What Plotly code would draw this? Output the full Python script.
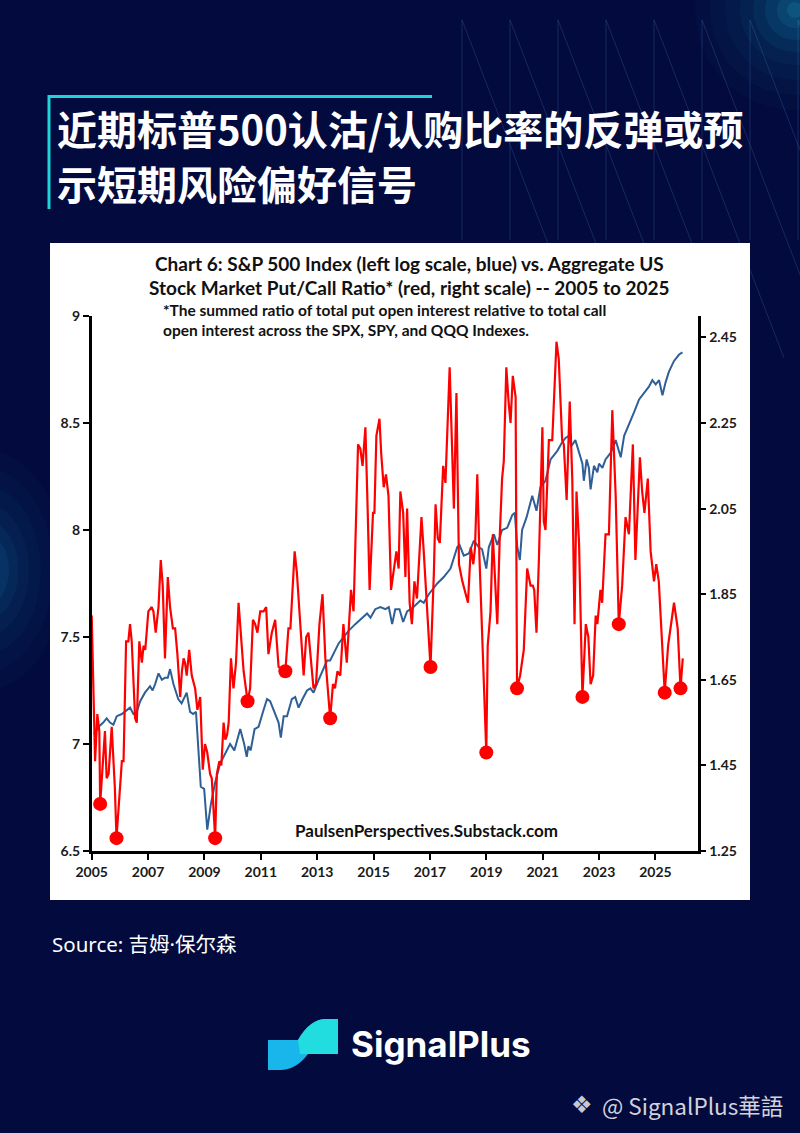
import plotly.graph_objects as go

W, H = 800, 1133

# ---------------- data ----------------
blue_years = [2005.06, 2005.12, 2005.24, 2005.41, 2005.53, 2005.65, 2005.77, 2005.89, 2006.07, 2006.24,
              2006.36, 2006.48, 2006.60, 2006.72, 2006.89, 2007.07, 2007.16, 2007.25, 2007.37, 2007.49,
              2007.60, 2007.70, 2007.78, 2007.90, 2008.07, 2008.19, 2008.37, 2008.49, 2008.60, 2008.70,
              2008.78, 2008.87, 2008.99, 2009.10, 2009.23, 2009.38, 2009.56, 2009.74, 2009.91, 2010.06,
              2010.27, 2010.41, 2010.50, 2010.56, 2010.64, 2010.78, 2010.92, 2011.10, 2011.22, 2011.33,
              2011.51, 2011.63, 2011.71, 2011.81, 2011.93, 2012.10, 2012.22, 2012.34, 2012.48, 2012.64,
              2012.76, 2012.87, 2013.05, 2013.23, 2013.35, 2013.46, 2013.58, 2013.76, 2013.94, 2014.12,
              2014.35, 2014.59, 2014.77, 2014.89, 2015.06, 2015.24, 2015.42, 2015.54, 2015.66, 2015.77,
              2015.92, 2016.05, 2016.19, 2016.42, 2016.66, 2016.78, 2016.96, 2017.26, 2017.49, 2017.73,
              2017.97, 2018.05, 2018.20, 2018.38, 2018.56, 2018.73, 2018.85, 2019.00, 2019.09, 2019.27,
              2019.39, 2019.56, 2019.74, 2019.92, 2020.01, 2020.10, 2020.19, 2020.27, 2020.43, 2020.63,
              2020.78, 2020.92, 2021.10, 2021.28, 2021.52, 2021.69, 2021.81, 2021.93, 2022.01, 2022.16,
              2022.29, 2022.41, 2022.46, 2022.56, 2022.64, 2022.70, 2022.82, 2022.94, 2023.00, 2023.12,
              2023.23, 2023.41, 2023.59, 2023.77, 2023.89, 2024.06, 2024.24, 2024.42, 2024.60, 2024.77,
              2024.89, 2025.01, 2025.13, 2025.25, 2025.36, 2025.48, 2025.66, 2025.84, 2025.96]
blue_values = [7.05, 7.05, 7.08, 7.10, 7.12, 7.10, 7.09, 7.13, 7.14, 7.16,
               7.17, 7.14, 7.15, 7.20, 7.24, 7.27, 7.25, 7.28, 7.33, 7.30,
               7.31, 7.31, 7.35, 7.28, 7.21, 7.19, 7.24, 7.15, 7.14, 7.15,
               6.99, 6.80, 6.79, 6.60, 6.72, 6.82, 6.91, 6.96, 7.00, 6.97,
               7.07, 7.00, 6.94, 6.99, 6.97, 7.07, 7.08, 7.16, 7.21, 7.20,
               7.14, 7.10, 7.03, 7.13, 7.13, 7.21, 7.22, 7.17, 7.21, 7.25,
               7.26, 7.24, 7.30, 7.35, 7.39, 7.39, 7.42, 7.47, 7.50, 7.53,
               7.56, 7.59, 7.61, 7.59, 7.63, 7.64, 7.63, 7.64, 7.56, 7.63,
               7.63, 7.57, 7.62, 7.64, 7.67, 7.66, 7.70, 7.75, 7.78, 7.82,
               7.92, 7.93, 7.88, 7.89, 7.95, 7.92, 7.91, 7.82, 7.92, 7.98,
               7.93, 8.00, 8.01, 8.07, 8.08, 7.92, 7.86, 8.00, 8.06, 8.16,
               8.09, 8.20, 8.23, 8.33, 8.37, 8.41, 8.43, 8.44, 8.39, 8.42,
               8.36, 8.31, 8.23, 8.33, 8.29, 8.19, 8.30, 8.27, 8.31, 8.29,
               8.33, 8.36, 8.42, 8.34, 8.44, 8.49, 8.55, 8.61, 8.64, 8.67,
               8.70, 8.68, 8.70, 8.63, 8.69, 8.74, 8.79, 8.82, 8.83]

red_years = [2005.00, 2005.12, 2005.20, 2005.27, 2005.30, 2005.47, 2005.53, 2005.60, 2005.71, 2005.82,
             2005.88, 2006.07, 2006.13, 2006.22, 2006.30, 2006.36, 2006.42, 2006.54, 2006.60, 2006.69,
             2006.78, 2006.84, 2006.90, 2007.01, 2007.13, 2007.19, 2007.27, 2007.37, 2007.45, 2007.52,
             2007.60, 2007.70, 2007.78, 2007.88, 2007.96, 2008.04, 2008.14, 2008.20, 2008.26, 2008.31,
             2008.37, 2008.46, 2008.55, 2008.67, 2008.75, 2008.85, 2008.94, 2009.02, 2009.10, 2009.20,
             2009.26, 2009.38, 2009.44, 2009.53, 2009.60, 2009.68, 2009.74, 2009.80, 2009.86, 2009.94,
             2010.03, 2010.12, 2010.21, 2010.30, 2010.39, 2010.53, 2010.62, 2010.72, 2010.80, 2010.88,
             2010.98, 2011.10, 2011.19, 2011.27, 2011.39, 2011.51, 2011.63, 2011.87, 2011.98, 2012.05,
             2012.20, 2012.28, 2012.40, 2012.52, 2012.61, 2012.69, 2012.87, 2012.96, 2013.08, 2013.19,
             2013.29, 2013.46, 2013.56, 2013.63, 2013.72, 2013.82, 2013.93, 2014.05, 2014.20, 2014.29,
             2014.45, 2014.53, 2014.61, 2014.71, 2014.79, 2014.86, 2014.98, 2015.03, 2015.10, 2015.21,
             2015.27, 2015.36, 2015.44, 2015.53, 2015.62, 2015.72, 2015.81, 2015.89, 2015.95, 2016.05,
             2016.13, 2016.19, 2016.28, 2016.36, 2016.45, 2016.54, 2016.70, 2016.78, 2017.02, 2017.14,
             2017.20, 2017.28, 2017.35, 2017.47, 2017.55, 2017.70, 2017.79, 2017.85, 2017.94, 2018.03,
             2018.15, 2018.27, 2018.35, 2018.45, 2018.54, 2018.60, 2018.68, 2018.76, 2018.85, 2019.00,
             2019.05, 2019.15, 2019.23, 2019.33, 2019.39, 2019.48, 2019.56, 2019.62, 2019.71, 2019.79,
             2019.86, 2019.94, 2020.04, 2020.09, 2020.20, 2020.33, 2020.45, 2020.57, 2020.65, 2020.70,
             2020.78, 2020.87, 2020.99, 2021.04, 2021.10, 2021.22, 2021.34, 2021.49, 2021.57, 2021.69,
             2021.75, 2021.85, 2021.96, 2022.05, 2022.13, 2022.20, 2022.29, 2022.41, 2022.53, 2022.62,
             2022.70, 2022.79, 2022.88, 2022.94, 2023.05, 2023.11, 2023.23, 2023.35, 2023.47, 2023.59,
             2023.70, 2023.82, 2023.94, 2024.06, 2024.20, 2024.29, 2024.45, 2024.53, 2024.61, 2024.73,
             2024.83, 2024.95, 2025.03, 2025.12, 2025.33, 2025.45, 2025.66, 2025.79, 2025.89, 2025.97]
red_values = [1.80, 1.46, 1.57, 1.53, 1.36, 1.53, 1.42, 1.43, 1.54, 1.40,
              1.28, 1.46, 1.46, 1.74, 1.74, 1.78, 1.74, 1.56, 1.55, 1.74,
              1.69, 1.73, 1.72, 1.81, 1.82, 1.81, 1.76, 1.82, 1.93, 1.87,
              1.70, 1.89, 1.82, 1.77, 1.77, 1.71, 1.61, 1.67, 1.70, 1.69,
              1.66, 1.72, 1.66, 1.63, 1.58, 1.61, 1.44, 1.50, 1.48, 1.43,
              1.42, 1.28, 1.43, 1.46, 1.45, 1.55, 1.51, 1.52, 1.55, 1.70,
              1.63, 1.69, 1.83, 1.75, 1.67, 1.60, 1.63, 1.79, 1.78, 1.76,
              1.81, 1.81, 1.82, 1.71, 1.76, 1.79, 1.68, 1.67, 1.77, 1.77,
              1.95, 1.90, 1.78, 1.66, 1.75, 1.76, 1.63, 1.64, 1.78, 1.85,
              1.70, 1.56, 1.64, 1.63, 1.67, 1.66, 1.78, 1.69, 1.86, 1.81,
              2.20, 2.19, 2.15, 2.24, 2.05, 1.86, 2.04, 2.04, 2.22, 2.26,
              2.18, 2.10, 2.13, 2.08, 1.86, 1.91, 1.95, 1.91, 2.09, 2.04,
              1.89, 2.05, 1.83, 1.78, 1.88, 1.84, 2.03, 1.95, 1.68, 1.90,
              2.06, 1.98, 1.97, 2.15, 2.11, 2.38, 2.18, 2.05, 2.32, 1.92,
              1.88, 1.85, 1.83, 1.96, 1.92, 1.96, 2.13, 1.93, 1.77, 1.48,
              1.73, 1.81, 1.99, 1.85, 1.78, 1.99, 2.12, 2.16, 2.38, 2.30,
              2.25, 2.36, 2.31, 1.63, 1.66, 1.72, 1.91, 1.87, 1.87, 1.86,
              1.76, 1.94, 2.24, 2.02, 2.00, 2.21, 2.21, 2.44, 2.40, 2.21,
              2.20, 2.07, 2.30, 2.12, 1.78, 2.09, 1.97, 1.61, 1.78, 1.75,
              1.64, 1.66, 1.80, 1.78, 1.86, 1.83, 1.99, 1.99, 2.28, 2.08,
              1.78, 1.87, 2.03, 1.99, 2.20, 1.93, 2.17, 2.09, 2.04, 2.12,
              1.95, 1.88, 1.92, 1.88, 1.62, 1.73, 1.83, 1.77, 1.63, 1.70]

dot_years = [2005.30, 2005.88, 2009.38, 2010.53, 2011.87, 2013.46, 2017.02, 2019.00,
             2020.09, 2022.41, 2023.70, 2025.33, 2025.89]
dot_values = [1.36, 1.28, 1.28, 1.60, 1.67, 1.56, 1.68, 1.48,
              1.63, 1.61, 1.78, 1.62, 1.63]

x_ticks = [2005, 2007, 2009, 2011, 2013, 2015, 2017, 2019, 2021, 2023, 2025]
left_ticks = [6.5, 7, 7.5, 8, 8.5, 9]
left_labels = ["6.5", "7", "7.5", "8", "8.5", "9"]
right_ticks = [1.25, 1.45, 1.65, 1.85, 2.05, 2.25, 2.45]
right_labels = ["1.25", "1.45", "1.65", "1.85", "2.05", "2.25", "2.45"]

# ---------------- helpers (pixel -> paper) ----------------
def px(x):
    return x / W

def py(y):
    return 1 - y / H

BG = "#030B3E"
CYAN = "#1FD3D8"
TICKFONT = dict(family="Lato", size=14, color="#1a1a1a", weight="bold")

fig = go.Figure()

fig.add_trace(go.Scatter(x=blue_years, y=blue_values, mode="lines",
                         line=dict(color="#2F5F97", width=2), yaxis="y", showlegend=False,
                         hoverinfo="skip"))
fig.add_trace(go.Scatter(x=red_years, y=red_values, mode="lines",
                         line=dict(color="#FF0000", width=2.2), yaxis="y2", showlegend=False,
                         hoverinfo="skip"))
fig.add_trace(go.Scatter(x=dot_years, y=dot_values, mode="markers",
                         marker=dict(color="#FF0000", size=14, line=dict(width=0)),
                         yaxis="y2", showlegend=False, hoverinfo="skip"))

shapes = []
# decorative thin lines top right
for k in range(8):
    x0 = 462 + 48 * k
    shapes.append(dict(type="line", xref="paper", yref="paper",
                       x0=px(x0), y0=py(20), x1=px(x0), y1=py(240),
                       line=dict(color="rgba(70,120,190,0.28)", width=1), layer="below"))
    x1 = min(x0 + 130, 800)
    shapes.append(dict(type="line", xref="paper", yref="paper",
                       x0=px(x0), y0=py(20), x1=px(x1), y1=py(20 + (x1 - x0) * 2.6),
                       line=dict(color="rgba(70,120,190,0.28)", width=1), layer="below"))
# glows
for r, a in [(100, 0.025), (85, 0.03), (70, 0.035), (55, 0.045), (42, 0.06), (30, 0.08), (18, 0.1), (8, 0.12)]:
    shapes.append(dict(type="circle", xref="paper", yref="paper",
                       x0=px(795 - r), x1=px(795 + r), y0=py(10 + r), y1=py(10 - r),
                       fillcolor=f"rgba(40,200,230,{a})", line=dict(width=0), layer="below"))
    shapes.append(dict(type="circle", xref="paper", yref="paper",
                       x0=px(-15 - r * 0.8), x1=px(-15 + r * 0.8), y0=py(570 + r * 1.2), y1=py(570 - r * 1.2),
                       fillcolor=f"rgba(40,190,230,{a})", line=dict(width=0), layer="below"))
# cyan bracket
shapes.append(dict(type="line", xref="paper", yref="paper", x0=px(49), x1=px(49), y0=py(95), y1=py(209),
                   line=dict(color=CYAN, width=3)))
shapes.append(dict(type="line", xref="paper", yref="paper", x0=px(48), x1=px(432), y0=py(96.5), y1=py(96.5),
                   line=dict(color=CYAN, width=3)))
# white chart panel
shapes.append(dict(type="rect", xref="paper", yref="paper", x0=px(50), x1=px(750), y0=py(900), y1=py(243),
                   fillcolor="white", line=dict(width=0), layer="below"))
# logo icon
shapes.append(dict(type="path", xref="paper", yref="paper",
                   path=" ".join([
                       f"M {px(268)},{py(1040)}", f"L {px(298)},{py(1040)}",
                       f"Q {px(310)},{py(1019)} {px(326)},{py(1019)}",
                       f"L {px(338)},{py(1019)}", f"L {px(338)},{py(1054)}", f"L {px(308)},{py(1054)}",
                       f"Q {px(296)},{py(1070)} {px(280)},{py(1070)}",
                       f"L {px(268)},{py(1070)} Z"]),
                   fillcolor="#19B6EC", line=dict(width=0)))
shapes.append(dict(type="path", xref="paper", yref="paper",
                   path=" ".join([
                       f"M {px(298)},{py(1040)}",
                       f"Q {px(310)},{py(1019)} {px(326)},{py(1019)}",
                       f"L {px(338)},{py(1019)}", f"L {px(338)},{py(1054)}", f"L {px(308)},{py(1054)}",
                       f"L {px(300)},{py(1054)} Z"]),
                   fillcolor="#22DDE0", line=dict(width=0)))

ann = []
def text(x, y, s, size, color, family, weight="normal", xanchor="left"):
    ann.append(dict(x=px(x), y=py(y), xref="paper", yref="paper", text=s, showarrow=False,
                    xanchor=xanchor, yanchor="middle",
                    font=dict(size=size, color=color, family=family, weight=weight)))

text(55, 128, "近期标普500认沽/认购比率的反弹或预", 40, "white", "Noto Sans CJK SC", "bold")
text(55, 183, "示短期风险偏好信号", 40, "white", "Noto Sans CJK SC", "bold")
text(410, 263, "Chart 6: S&P 500 Index (left log scale, blue) vs. Aggregate US", 19, "#111", "Lato", "bold", "center")
text(410, 287, "Stock Market Put/Call Ratio* (red, right scale) -- 2005 to 2025", 19, "#111", "Lato", "bold", "center")
text(161, 310, "*The summed ratio of total put open interest relative to total call", 15.5, "#111", "Lato", "bold")
text(161, 330, "open interest across the SPX, SPY, and QQQ Indexes.", 15.5, "#111", "Lato", "bold")
text(427, 830, "PaulsenPerspectives.Substack.com", 17, "#111", "Lato", "bold", "center")
text(50, 944, "Source: 吉姆·保尔森", 20.5, "white", "Noto Sans, Noto Sans CJK SC")
text(349, 1044, "SignalPlus", 35, "white", "Inter", "bold")
text(569, 1105, "❖", 24, "#c8c8d2", "DejaVu Sans")
text(600, 1105, "@ SignalPlus華語", 22.5, "#d2d2dc", "Noto Sans CJK SC")

fig.update_layout(
    width=W, height=H, autosize=False,
    margin=dict(l=0, r=0, t=0, b=0, pad=0, autoexpand=False),
    paper_bgcolor=BG, plot_bgcolor="rgba(0,0,0,0)",
    shapes=shapes, annotations=ann,
    xaxis=dict(domain=[px(91.7), px(697.7)], range=[2005, 2026.5], tickvals=x_ticks,
               ticktext=[str(t) for t in x_ticks],
               showline=True, linecolor="black", linewidth=2.5, ticks="outside", ticklen=6,
               tickwidth=2, tickcolor="black", showgrid=False, zeroline=False, tickfont=TICKFONT,
               anchor="y", automargin=False),
    yaxis=dict(domain=[py(851), py(316)], range=[6.5, 9], tickvals=left_ticks, ticktext=left_labels,
               showline=True, linecolor="black", linewidth=2.5, ticks="outside", ticklen=6,
               tickwidth=2, tickcolor="black", showgrid=False, zeroline=False, tickfont=TICKFONT,
               anchor="x", automargin=False),
    yaxis2=dict(domain=[py(851), py(316)], range=[1.25, 2.5], tickvals=right_ticks, ticktext=right_labels,
                overlaying="y", side="right", anchor="x", automargin=False,
                showline=True, linecolor="black", linewidth=2.5, ticks="outside", ticklen=6,
                tickwidth=2, tickcolor="black", showgrid=False, zeroline=False, tickfont=TICKFONT),
)

fig.write_html("out.html", config={"displayModeBar": False, "responsive": False},
               post_script="document.body.style.margin='0';document.body.style.overflow='hidden';")
